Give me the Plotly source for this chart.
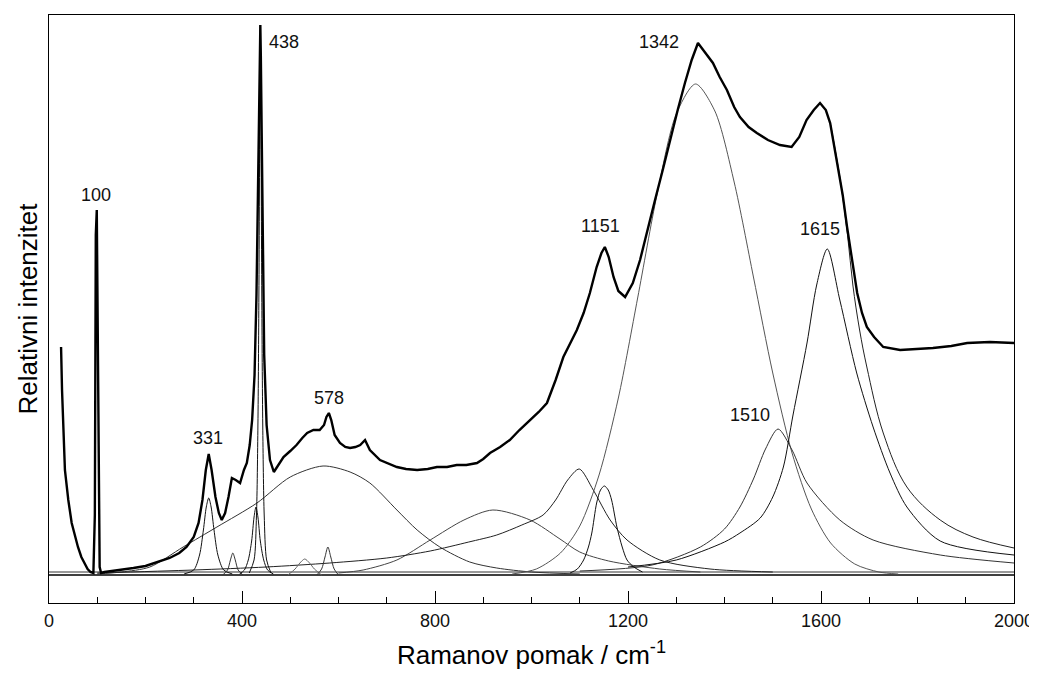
import plotly.graph_objects as go

# ---- measured spectrum (Raman shift cm-1, relative intensity) ----
spec_x = [25, 27, 33, 40, 47, 54, 60, 67, 74, 80, 86, 92, 95, 97, 99, 101, 103, 105, 108, 115, 130, 150, 175,
          200, 225, 250, 270, 285, 300, 310, 318, 325, 331, 337, 345, 352, 358, 365, 372, 379, 387, 396, 404,
          410, 416, 421, 426, 430, 433, 435, 437, 438, 439, 441, 443, 446, 451, 458, 466, 476, 486, 500, 513,
          525, 535, 548, 561, 570, 575, 580, 585, 592, 603, 614, 624, 635, 645, 655, 665, 686, 700, 721, 740,
          763, 785, 804, 825, 845, 865, 887, 900, 914, 935, 955, 975, 997, 1015, 1032, 1050, 1066, 1080, 1094,
          1108, 1121, 1135, 1145, 1152, 1160, 1170, 1180, 1194, 1210, 1225, 1240, 1256, 1272, 1287, 1303, 1318,
          1332, 1345, 1360, 1376, 1390, 1405, 1420, 1432, 1450, 1467, 1490, 1515, 1539, 1555, 1570, 1585, 1598,
          1610, 1619, 1633, 1645, 1654, 1665, 1675, 1685, 1695, 1710, 1729, 1764, 1800, 1832, 1870, 1903, 1950,
          2000]
spec_y = [228, 185, 105, 75, 52, 38, 28, 18, 12, 6, 3, 2, 60, 340, 365, 250, 60, 8, 2, 3, 4, 5, 7,
          9, 13, 17, 22, 28, 38, 52, 75, 105, 121, 105, 78, 62, 55, 62, 78, 97, 95, 92, 105,
          112, 130, 155, 200, 280, 380, 460, 530, 550, 520, 420, 320, 220, 150, 115, 103, 110, 118, 124, 130,
          137, 142, 145, 145, 150, 158, 162, 155, 140, 132, 128, 127, 128, 130, 135, 125, 115, 112, 108, 106,
          105, 106, 108, 108, 110, 110, 112, 116, 122, 128, 135, 145, 155, 163, 172, 195, 218, 232, 245,
          262, 282, 308, 322, 328, 318, 298, 284, 278, 292, 315, 345, 375, 405, 435, 465, 492,
          515, 532, 522, 512, 498, 485, 468, 458, 448, 442, 435, 430, 428, 438, 455, 465, 472,
          465, 452, 415, 380, 348, 312, 282, 262, 248, 238, 228, 225, 226, 227, 229, 232, 233,
          232]

# ---- fit envelope where it leaves the data ----
fit_x = [1620, 1640, 1655, 1666, 1680, 1695, 1729, 1778, 1847, 1915, 2000]
fit_y = [450, 395, 340, 290, 245, 208, 142, 88, 55, 38, 27]

# ---- fitted components ----
comp_331_x = [280, 300, 312, 320, 326, 331, 336, 342, 350, 362, 380]
comp_331_y = [1, 5, 20, 45, 68, 77, 68, 45, 20, 5, 1]
comp_381_x = [360, 370, 376, 381, 386, 392, 402]
comp_381_y = [0, 5, 15, 22, 15, 5, 0]
comp_429_x = [395, 405, 413, 420, 425, 429, 433, 438, 445, 453, 465]
comp_429_y = [1, 5, 15, 34, 58, 68, 58, 34, 15, 5, 1]
comp_438_x = [415, 425, 430, 433, 435, 437, 438, 439, 441, 443, 446, 451, 460]
comp_438_y = [2, 15, 60, 150, 280, 480, 550, 480, 280, 150, 60, 15, 2]
comp_530_x = [495, 510, 520, 530, 540, 550, 565]
comp_530_y = [0, 6, 12, 16, 12, 6, 0]
comp_578_x = [555, 565, 572, 578, 584, 591, 600]
comp_578_y = [0, 6, 18, 28, 18, 6, 0]
comp_570_x = [100, 150, 209, 278, 348, 431, 500, 568, 624, 665, 721, 763, 810, 872, 928, 1000, 1100]
comp_570_y = [1, 3, 8, 28, 48, 72, 98, 109, 103, 92, 65, 45, 28, 13, 7, 3, 1]
comp_920_x = [600, 651, 721, 790, 860, 920, 997, 1059, 1100, 1160, 1266, 1350]
comp_920_y = [2, 5, 15, 35, 55, 65, 55, 36, 23, 14, 6, 3]
comp_1099_x = [100, 300, 450, 582, 700, 790, 870, 928, 980, 1024, 1050, 1075, 1099, 1128, 1163, 1198, 1266, 1370, 1500]
comp_1099_y = [2, 5, 8, 12, 17, 24, 33, 40, 50, 60, 75, 95, 106, 85, 55, 35, 15, 6, 3]
comp_1151_x = [1080, 1095, 1108, 1118, 1125, 1135, 1143, 1151, 1159, 1166, 1177, 1188, 1198, 1212, 1230]
comp_1151_y = [2, 6, 15, 28, 42, 72, 85, 89, 85, 75, 48, 28, 15, 8, 3]
comp_1342_x = [960, 1010, 1060, 1100, 1140, 1180, 1220, 1260, 1300, 1340, 1380, 1420, 1460, 1500, 1540, 1580,
               1620, 1670, 1720, 1760]
comp_1342_y = [1, 6, 22, 49, 100, 177, 277, 380, 461, 491, 464, 393, 298, 202, 122, 66,
               32, 11, 3, 1]
comp_1510_x = [1100, 1250, 1350, 1400, 1432, 1460, 1485, 1511, 1540, 1571, 1639, 1708, 1847, 2000]
comp_1510_y = [4, 10, 28, 46, 68, 96, 126, 146, 125, 92, 55, 35, 20, 12]
comp_1615_x = [1200, 1300, 1400, 1432, 1474, 1500, 1522, 1542, 1571, 1591, 1613, 1639, 1674, 1708, 1743,
               1778, 1847, 2000]
comp_1615_y = [8, 15, 33, 42, 57, 78, 108, 160, 232, 290, 326, 275, 202, 148, 102, 68, 34, 20]

base_x = [0, 2000]
base_y = [0, 0]
base2_x = [0, 2000]
base2_y = [3, 3]

# ---- peak labels ----
label_text = ["100", "331", "438", "578", "1151", "1342", "1510", "1615"]
label_x = [97, 329, 487, 580, 1144, 1264, 1453, 1597]
label_y = [380, 137, 533, 177, 349, 533, 160, 346]

components = [
    (comp_570_x, comp_570_y, "#333"), (comp_920_x, comp_920_y, "#444"),
    (comp_1099_x, comp_1099_y, "#222"), (comp_1342_x, comp_1342_y, "#555"),
    (comp_1510_x, comp_1510_y, "#333"), (comp_1615_x, comp_1615_y, "#111"),
    (comp_331_x, comp_331_y, "#111"), (comp_381_x, comp_381_y, "#333"),
    (comp_429_x, comp_429_y, "#111"), (comp_438_x, comp_438_y, "#111"),
    (comp_530_x, comp_530_y, "#666"), (comp_578_x, comp_578_y, "#333"),
    (comp_1151_x, comp_1151_y, "#111"),
]

fig = go.Figure()
fig.add_trace(go.Scatter(x=base2_x, y=base2_y, mode="lines", line=dict(color="#777", width=1.5)))
fig.add_trace(go.Scatter(x=base_x, y=base_y, mode="lines", line=dict(color="#000", width=1.5)))
for cx, cy, col in components:
    fig.add_trace(go.Scatter(x=cx, y=cy, mode="lines", line=dict(color=col, width=1, shape="spline", smoothing=0.8)))
fig.add_trace(go.Scatter(x=fit_x, y=fit_y, mode="lines", line=dict(color="#222", width=1, shape="spline")))
fig.add_trace(go.Scatter(x=spec_x, y=spec_y, mode="lines", line=dict(color="#000", width=2.4)))

for t, lx, ly in zip(label_text, label_x, label_y):
    fig.add_annotation(x=lx, y=ly, text=t, showarrow=False,
                       font=dict(family="Liberation Sans, Arial", size=18, color="#111"))

# the page body adds an 8 px margin, so the figure is sized to fill the rest of the window
fig.update_layout(
    width=1029, height=665,
    margin=dict(l=41, r=23, t=7, b=70),
    paper_bgcolor="white", plot_bgcolor="white",
    showlegend=False,
    font=dict(family="Liberation Sans, Arial", color="#000"),
)
fig.update_xaxes(
    range=[0, 2000], showgrid=False, zeroline=False, automargin=False,
    showline=True, linecolor="#000", linewidth=1, mirror=True,
    tickmode="array", tickvals=[0, 400, 800, 1200, 1600, 2000],
    ticks="inside", ticklen=12, tickcolor="#000", tickwidth=1,
    ticklabelstandoff=1,
    minor=dict(tickmode="array", tickvals=[100, 200, 300, 500, 600, 700, 900, 1000, 1100, 1300, 1400, 1500,
                                           1700, 1800, 1900],
               ticks="inside", ticklen=6, tickcolor="#000", tickwidth=1, showgrid=False),
    tickfont=dict(size=18, color="#111"),
    title=dict(text="Ramanov pomak / cm<sup>-1</sup>", font=dict(size=26, color="#000"), standoff=16),
)
fig.update_yaxes(
    range=[-28, 560], showgrid=False, zeroline=False, automargin=False,
    showline=True, linecolor="#000", linewidth=1, mirror=True,
    showticklabels=False, ticks="",
    title=dict(text="Relativni intenzitet", font=dict(size=26, color="#000"), standoff=2),
)

fig.write_html("out.html")
